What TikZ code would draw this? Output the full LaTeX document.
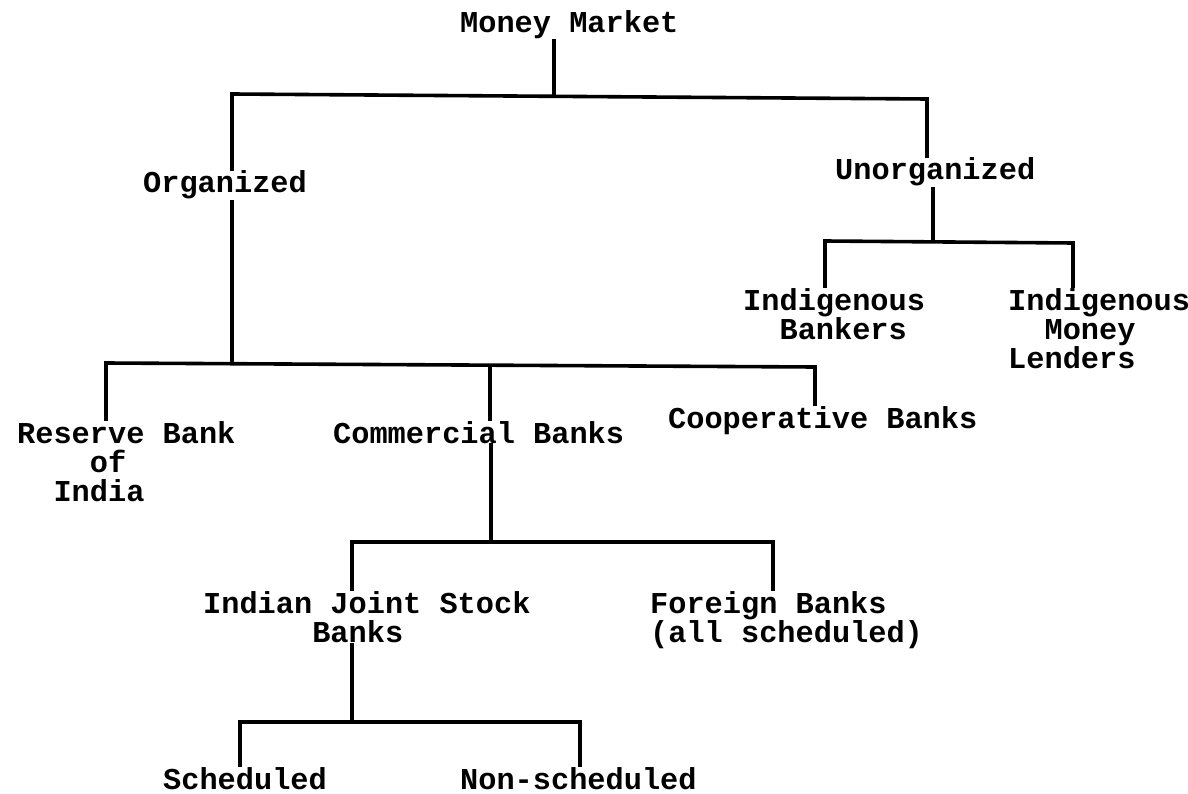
\documentclass[tikz,border=0pt]{standalone}
\usepackage{fontspec}
\newfontfamily\typewriter{Liberation Mono}

\begin{document}
\begin{tikzpicture}[
  x=1pt, y=-1pt,
  lbl/.style={anchor=base west, inner sep=0pt, align=left,
    font=\typewriter\bfseries\fontsize{30.3}{29}\selectfont},
  link/.style={line width=3.6pt}
]
\useasboundingbox (0,0) rectangle (1188,794);

% --- Etiquetas (base = last line) ---
\node[lbl] (mm)    at (460,33)  {Money Market};
\node[lbl] (org)   at (143,193) {Organized};
\node[lbl] (unorg) at (835,180) {Unorganized};
\node[lbl] (ib)    at (743,339) {Indigenous\\\phantom{In}Bankers};
\node[lbl] (iml)   at (1008,368) {Indigenous\\\phantom{In}Money\\Lenders};
\node[lbl] (rbi)   at (17,501)  {Reserve Bank\\\phantom{Rese}of\\\phantom{Re}India};
\node[lbl] (cb)    at (333,443) {Commercial Banks};
\node[lbl] (coop)  at (668,428) {Cooperative Banks};
\node[lbl] (ijs)   at (203,642) {Indian Joint Stock\\\phantom{Indian}Banks};
\node[lbl] (fb)    at (650,642) {Foreign Banks\\(all scheduled)};
\node[lbl] (sch)   at (163,789) {Scheduled};
\node[lbl] (nsch)  at (460,789) {Non-scheduled};

% --- Puntos de las barras ---
\coordinate (top)   at (554,96);
\coordinate (topL)  at (232,94);
\coordinate (topR)  at (927,99);
\coordinate (orgB)  at (232,364);
\coordinate (rbiT)  at (106,363);
\coordinate (cbT)   at (490,365);
\coordinate (coopT) at (815,367);
\coordinate (unB)   at (933,242);
\coordinate (ibT)   at (825,241);
\coordinate (imlT)  at (1073,243);
\coordinate (cbB)   at (491,542);
\coordinate (ijsT)  at (352,542);
\coordinate (fbT)   at (773,542);
\coordinate (ijsB)  at (352,722);
\coordinate (schT)  at (240,722);
\coordinate (nschT) at (580,722);

% Money Market
\draw[link] (mm.south -| top) -- (top);
\draw[link] (org.north -| topL) -- (topL) -- (topR) -- (unorg.north -| topR);

% Organized
\draw[link] (org.south -| orgB) -- (orgB);
\draw[link] (rbi.north -| rbiT) -- (rbiT) -- (coopT) -- (coop.north -| coopT);
\draw[link] (cbT) -- (cb.north -| cbT);

% Unorganized
\draw[link] (unorg.south -| unB) -- (unB);
\draw[link] (ib.north -| ibT) -- (ibT) -- (imlT) -- (iml.north -| imlT);

% Commercial Banks
\draw[link] (cb.south -| cbB) -- (cbB);
\draw[link] (ijs.north -| ijsT) -- (ijsT) -- (fbT) -- (fb.north -| fbT);

% Indian Joint Stock Banks
\draw[link] (ijs.south -| ijsB) -- (ijsB);
\draw[link] (sch.north -| schT) -- (schT) -- (nschT) -- (nsch.north -| nschT);
\end{tikzpicture}
\end{document}
